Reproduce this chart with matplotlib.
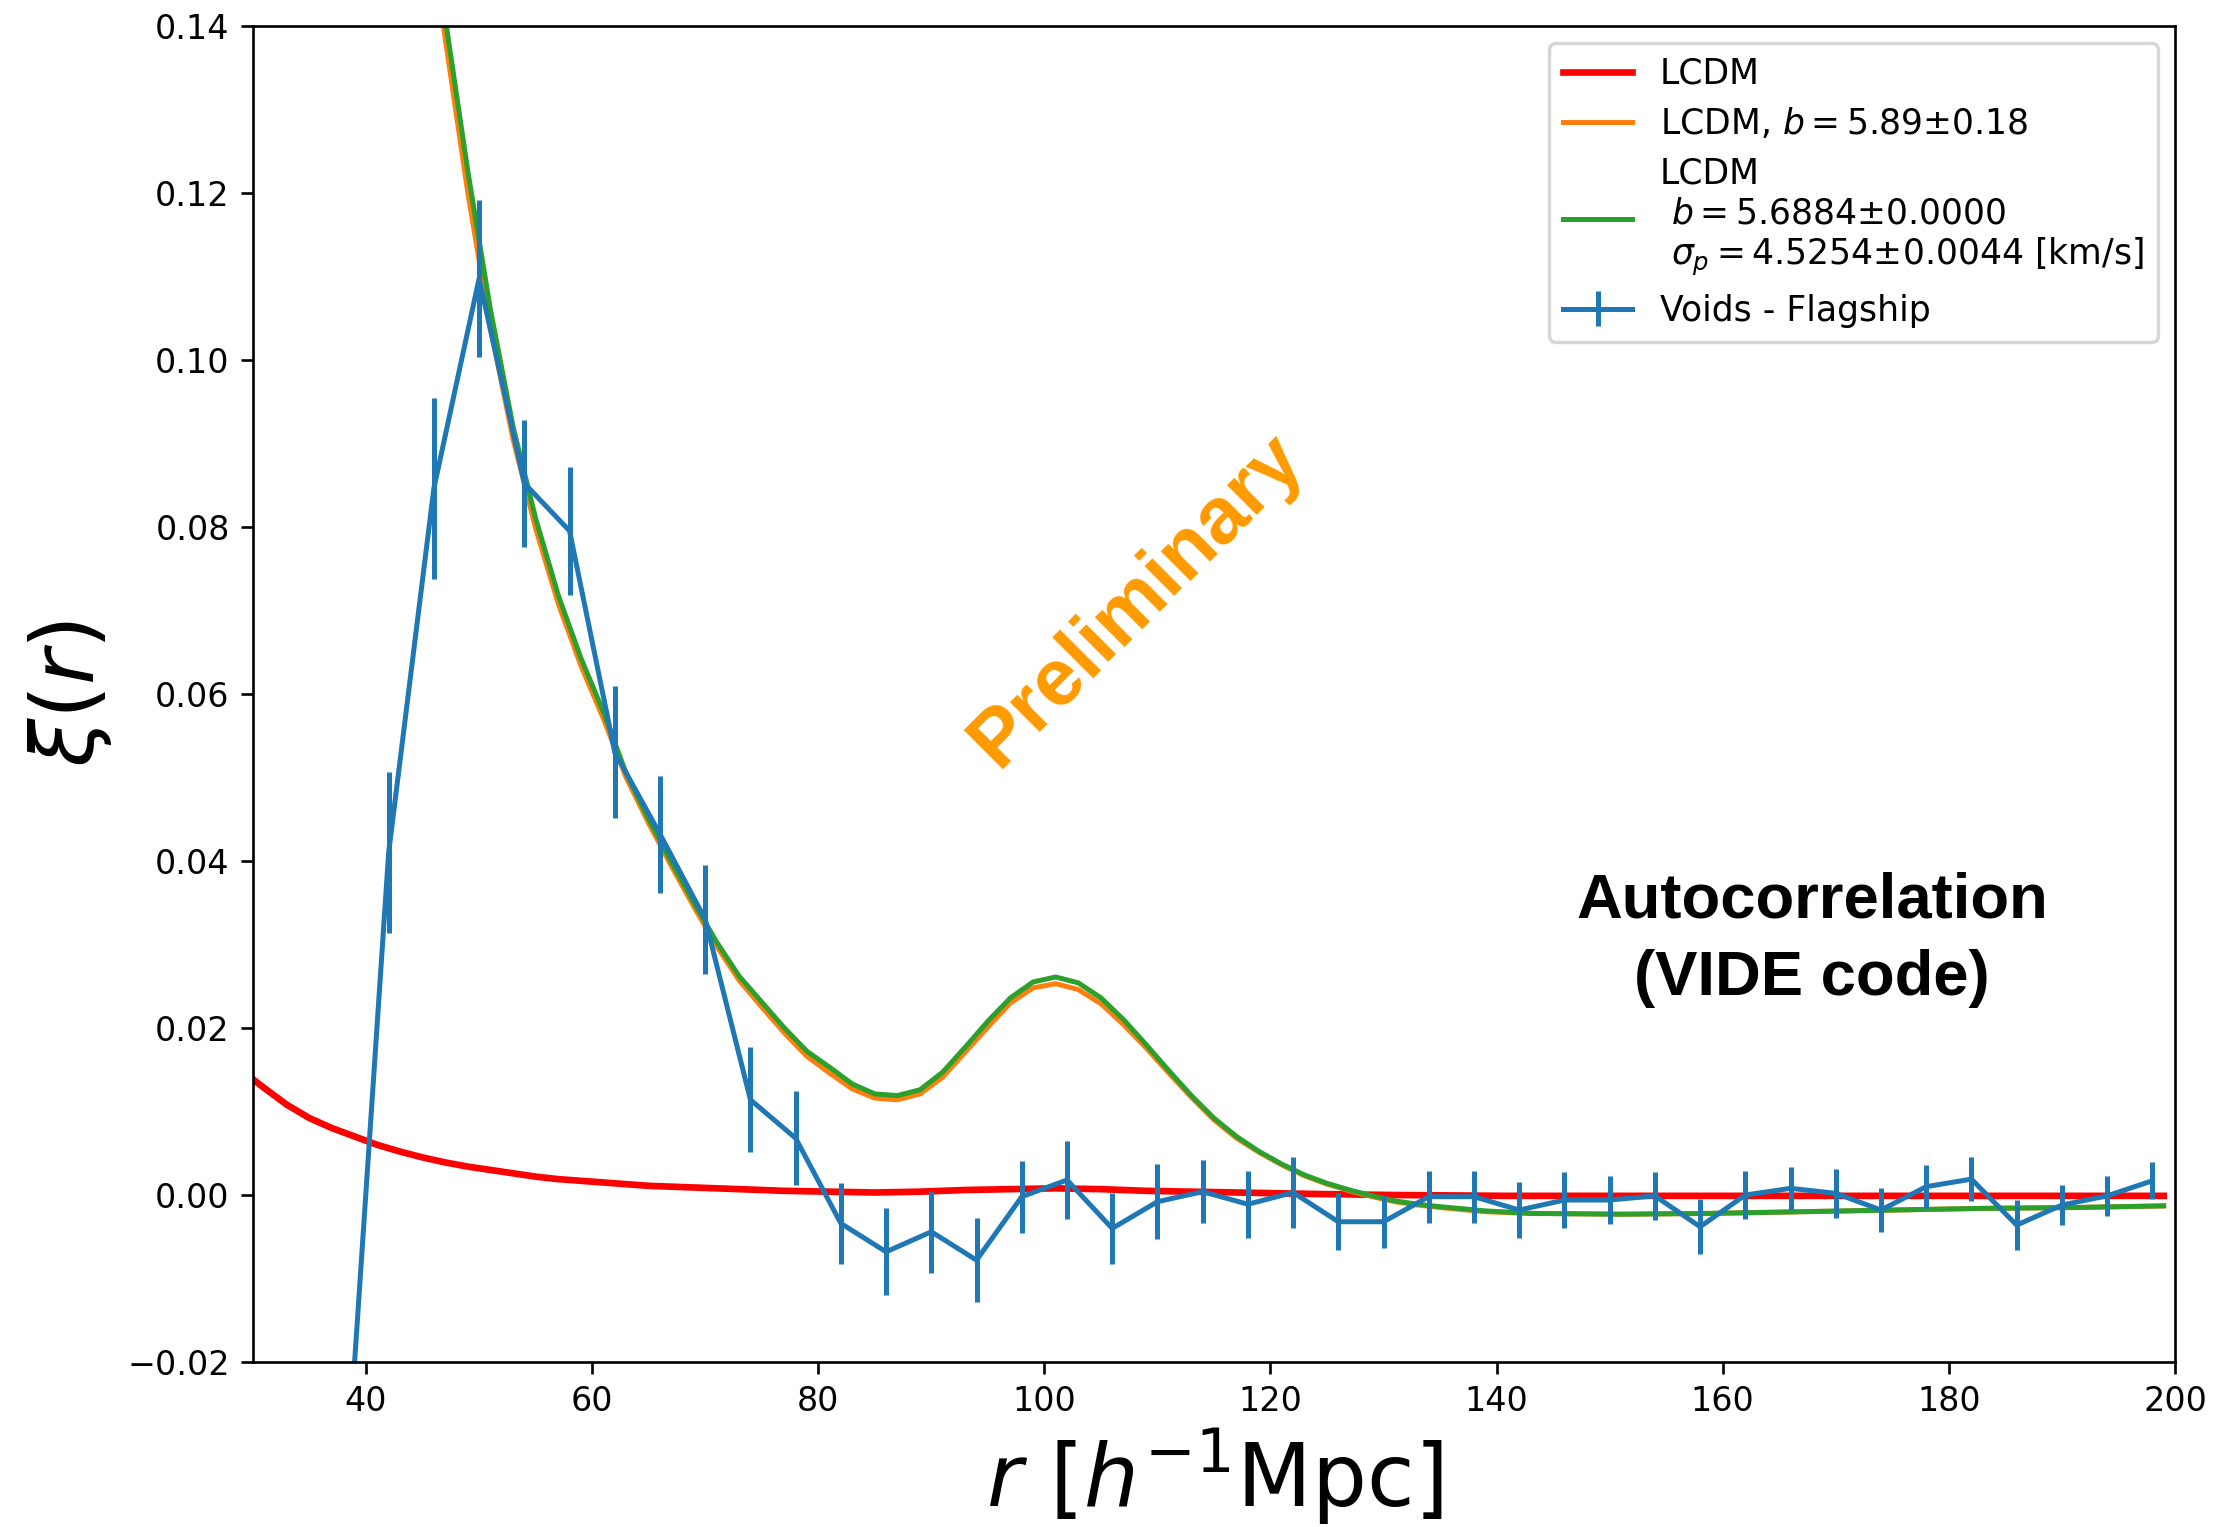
import numpy as np
import matplotlib
matplotlib.use("Agg")
from matplotlib import pyplot as plt

# Voids - Flagship measurement
r_voids = [38, 42, 46, 50, 54, 58, 62, 66, 70, 74, 78, 82, 86, 90, 94, 98,
           102, 106, 110, 114, 118, 122, 126, 130, 134, 138, 142, 146, 150,
           154, 158, 162, 166, 170, 174, 178, 182, 186, 190, 194, 198]
xi_voids = [-0.040, 0.041, 0.0846, 0.1097, 0.0852, 0.0795, 0.053, 0.0432,
            0.033, 0.0114, 0.0068, -0.0034, -0.0068, -0.0044, -0.0078,
            -0.0002, 0.0018, -0.0040, -0.0008, 0.0004, -0.0011, 0.0003,
            -0.0032, -0.0032, -0.0002, -0.0002, -0.0018, -0.0006, -0.0006,
            -0.0001, -0.0038, 0.0000, 0.0008, 0.0002, -0.0018, 0.0010,
            0.0019, -0.0036, -0.0012, -0.0001, 0.0017]
err_voids = [0.012, 0.0096, 0.0108, 0.0094, 0.0076, 0.0077, 0.0079, 0.0070,
             0.0065, 0.0063, 0.0056, 0.0048, 0.0052, 0.0049, 0.0050, 0.0043,
             0.0047, 0.0042, 0.0045, 0.0038, 0.0040, 0.0042, 0.0034, 0.0031,
             0.0031, 0.0031, 0.0034, 0.0034, 0.0029, 0.0029, 0.0033, 0.0029,
             0.0026, 0.0029, 0.0026, 0.0026, 0.0026, 0.0030, 0.0024, 0.0024,
             0.0022]

# LCDM (unbiased)
r_lcdm = [29, 31, 33, 35, 37, 39, 41, 43, 45, 47, 49, 51, 53, 55, 57, 59, 61,
          63, 65, 67, 69, 71, 73, 75, 77, 81, 85, 89, 93, 97, 101, 105, 109,
          113, 117, 121, 125, 131, 141, 161, 181, 199]
xi_lcdm = [0.0149, 0.0128, 0.0108, 0.0092, 0.0080, 0.0070, 0.0060, 0.0052,
           0.0045, 0.0039, 0.0034, 0.0030, 0.0026, 0.0022, 0.0019, 0.0017,
           0.0015, 0.0013, 0.0011, 0.0010, 0.0009, 0.0008, 0.0007, 0.0006,
           0.0005, 0.0004, 0.0003, 0.0004, 0.0006, 0.0007, 0.0008, 0.0007,
           0.0005, 0.0004, 0.0003, 0.0002, 0.0001, 0.0000, -0.0001, -0.0001,
           -0.0001, -0.0001]

# biased models share the same r grid
r_model = [45, 47, 49, 51, 53, 55, 57, 59, 61, 63, 65, 67, 69, 71, 73, 75, 77,
           79, 81, 83, 85, 87, 89, 91, 93, 95, 97, 99, 101, 103, 105, 107, 109,
           111, 113, 115, 117, 119, 121, 123, 125, 127, 129, 131, 133, 135,
           139, 143, 151, 159, 167, 175, 183, 191, 199]
xi_bias = [0.157, 0.1385, 0.1200, 0.1038, 0.0905, 0.0798, 0.0708, 0.0634,
           0.0570, 0.0500, 0.0445, 0.0394, 0.0345, 0.0298, 0.0257, 0.0225,
           0.0194, 0.0166, 0.0146, 0.0127, 0.0116, 0.0114, 0.0121, 0.0141,
           0.0171, 0.0201, 0.0230, 0.0248, 0.0253, 0.0246, 0.0229, 0.0204,
           0.0176, 0.0146, 0.0117, 0.0090, 0.0068, 0.0051, 0.0036, 0.0023,
           0.0013, 0.0005, -0.0002, -0.0008, -0.0012, -0.0015, -0.0020,
           -0.0022, -0.0023, -0.0022, -0.0020, -0.0018, -0.0016, -0.0015,
           -0.0013]
xi_bias_sigma = [0.160, 0.1409, 0.1226, 0.1060, 0.0920, 0.0810, 0.0718,
                 0.0643, 0.0578, 0.0505, 0.0450, 0.0399, 0.0350, 0.0303,
                 0.0262, 0.0231, 0.0200, 0.0172, 0.0153, 0.0133, 0.0121,
                 0.0119, 0.0126, 0.0147, 0.0177, 0.0208, 0.0236, 0.0255,
                 0.0261, 0.0254, 0.0236, 0.0210, 0.0180, 0.0149, 0.0119,
                 0.0092, 0.0070, 0.0052, 0.0037, 0.0024, 0.0014, 0.0006,
                 -0.0001, -0.0007, -0.0011, -0.0014, -0.0019, -0.0022,
                 -0.0023, -0.0022, -0.0020, -0.0018, -0.0016, -0.0015,
                 -0.0013]

fig = plt.figure(figsize=(2225 / 240, 1527 / 240), dpi=240)
ax = fig.add_axes([0.1137, 0.108, 0.8638, 0.8753])

ax.plot(r_lcdm, xi_lcdm, color="red", lw=2, label="LCDM")
ax.plot(r_model, xi_bias, color="C1", lw=1.5, label=r"LCDM, $b=5.89{\pm}0.18$")
ax.plot(r_model, xi_bias_sigma, color="C2", lw=1.5,
        label="LCDM\n $b=5.6884{\\pm}0.0000$\n"
              " $\\sigma_p=4.5254{\\pm}0.0044$ [km/s]")
ax.errorbar(r_voids, xi_voids, yerr=err_voids, color="C0", lw=1.5,
            label="Voids - Flagship")

ax.set_xlim(30, 200)
ax.set_ylim(-0.02, 0.14)
ax.set_xticks(np.arange(40, 201, 20))
ax.set_yticks(np.arange(-0.02, 0.141, 0.02))
ax.tick_params(labelsize=10)
ax.set_xlabel(r"$r\ [h^{-1}\mathrm{Mpc}]$", fontsize=26, labelpad=2.5)
ax.set_ylabel(r"$\xi(r)$", fontsize=26)
ax.legend(loc="upper right", fontsize=10.4, labelspacing=0.45)

ax.text(108.2, 0.0712, "Preliminary", rotation=45, color="#ff9a00",
        fontsize=24, fontweight="bold", family="Liberation Sans",
        ha="center", va="center")
ax.text(167.9, 0.0306, "Autocorrelation\n(VIDE code)", color="black",
        fontsize=19, fontweight="bold", family="Liberation Sans",
        ha="center", va="center", multialignment="center", linespacing=1.4)

fig.savefig("out.png", dpi=240)
